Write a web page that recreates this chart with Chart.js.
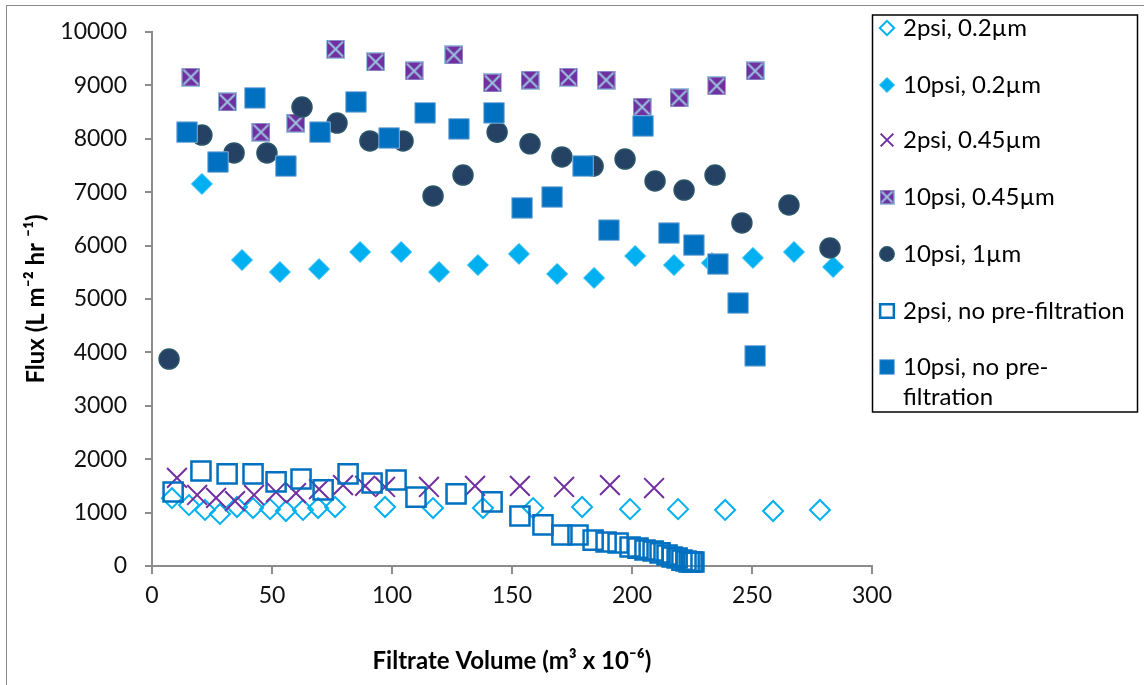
<!DOCTYPE html>
<html>
<head>
<meta charset="utf-8">
<script src="https://cdn.jsdelivr.net/npm/chart.js@4.4.0/dist/chart.umd.min.js"></script>
<style>
html,body{margin:0;padding:0;background:#fff;}
#wrap{width:1144px;height:685px;}
</style>
</head>
<body>
<div id="wrap"><canvas id="myChart" width="1144" height="685"></canvas></div>
<script>
// 축 눈금
var xTicks = [0, 50, 100, 150, 200, 250, 300];
var yTicks = [0, 1000, 2000, 3000, 4000, 5000, 6000, 7000, 8000, 9000, 10000];

// 2psi, 0.2um
var x_2psi_02 = [8.3, 15.4, 22.1, 28.3, 35.4, 42.1, 49.2, 55.8, 62.9, 69.2, 76.3, 97.1, 117.1, 137.9, 158.8, 179.2, 199.2, 219.2, 238.8, 258.8, 278.3];
var y_2psi_02 = [1270, 1140, 1050, 975, 1105, 1085, 1065, 1030, 1050, 1085, 1105, 1105, 1085, 1085, 1085, 1105, 1065, 1065, 1050, 1030, 1050];
// 10psi, 0.2um
var x_10psi_02 = [20.8, 37.5, 53.3, 69.6, 86.7, 103.8, 119.6, 135.8, 152.9, 168.8, 184.2, 201.3, 217.5, 233.3, 250.4, 267.5, 283.8];
var y_10psi_02 = [7155, 5730, 5505, 5560, 5880, 5880, 5505, 5635, 5845, 5470, 5395, 5805, 5635, 5675, 5770, 5880, 5600];
// 2psi, 0.45um
var x_2psi_045 = [10.4, 18.8, 26.7, 34.6, 42.5, 51.7, 60.0, 69.6, 79.6, 88.8, 97.1, 115.4, 134.6, 153.3, 171.7, 190.8, 209.2];
var y_2psi_045 = [1650, 1330, 1275, 1215, 1330, 1385, 1365, 1440, 1515, 1500, 1480, 1480, 1500, 1500, 1480, 1515, 1460];
// 10psi, 0.45um
var x_10psi_045 = [16.2, 31.4, 45.4, 59.9, 76.5, 93.2, 109.2, 125.8, 141.8, 157.5, 173.5, 189.2, 204.2, 219.6, 235.3, 251.3];
var y_10psi_045 = [9155, 8690, 8125, 8295, 9680, 9440, 9270, 9570, 9045, 9100, 9155, 9100, 8595, 8765, 8990, 9270];
// 10psi, 1um
var x_10psi_1 = [7.1, 20.8, 34.2, 47.9, 62.5, 77.1, 90.8, 104.6, 117.1, 129.6, 143.8, 157.5, 170.8, 183.8, 197.1, 209.6, 221.7, 234.6, 245.8, 265.4, 282.5];
var y_10psi_1 = [3875, 8070, 7735, 7735, 8595, 8295, 7960, 7960, 6930, 7320, 8125, 7905, 7660, 7490, 7620, 7210, 7040, 7320, 6425, 6760, 5955];
// 2psi, no pre-filtration
var x_2psi_none = [8.8, 20.4, 31.3, 42.1, 51.7, 62.1, 71.3, 81.7, 91.7, 101.7, 110.0, 126.7, 141.7, 153.3, 162.9, 170.8, 177.5, 183.8, 189.2, 194.2, 199.2, 202.5, 205.4, 208.8, 211.7, 214.6, 216.7, 218.8, 220.8, 222.5, 223.8, 225.0, 225.8];
var y_2psi_none = [1385, 1780, 1725, 1725, 1575, 1630, 1425, 1725, 1555, 1610, 1290, 1350, 1200, 935, 770, 580, 580, 485, 450, 430, 355, 335, 300, 280, 245, 205, 170, 150, 110, 95, 75, 75, 75];
// 10psi, no pre-filtration
var x_10psi_none = [14.6, 27.5, 42.9, 55.8, 70.0, 85.0, 98.8, 113.8, 127.9, 142.5, 154.2, 166.7, 179.6, 190.4, 204.6, 215.4, 225.8, 235.8, 244.2, 251.3];
var y_10psi_none = [8125, 7565, 8765, 7490, 8125, 8690, 8015, 8485, 8185, 8485, 6705, 6910, 7490, 6290, 8240, 6235, 6010, 5655, 4925, 3935];

var seriesNames = ['2psi, 0.2µm', '10psi, 0.2µm', '2psi, 0.45µm', '10psi, 0.45µm', '10psi, 1µm', '2psi, no pre-filtration', ['10psi, no pre-', 'filtration']];

var FONT = 'Lato, "Open Sans", sans-serif';

//x,y 배열을 점으로 묶기
var toPoints = function(xs, ys){
	var pts = [];
	for (var i = 0; i < xs.length; i++) pts.push({x: xs[i], y: ys[i]});
	return pts;
};

//보라색 사각형 + 하늘색 X 마커
var makeBoxX = function(size){
	var c = document.createElement('canvas');
	c.width = size; c.height = size;
	var g = c.getContext('2d');
	g.fillStyle = '#7030A0';
	g.fillRect(0, 0, size, size);
	g.strokeStyle = '#9cc3e0';
	g.lineWidth = 1;
	g.strokeRect(0.5, 0.5, size - 1, size - 1);
	g.lineWidth = 2;
	g.beginPath();
	g.moveTo(2, 2); g.lineTo(size - 2, size - 2);
	g.moveTo(size - 2, 2); g.lineTo(2, size - 2);
	g.stroke();
	return c;
};
var boxX = makeBoxX(19);
var boxXSmall = makeBoxX(15);

var datasets = [
	{label: seriesNames[0], data: toPoints(x_2psi_02, y_2psi_02), pointStyle: 'rectRot', pointRadius: 10,
	 backgroundColor: 'rgba(0,0,0,0)', borderColor: '#00B0F0', pointBorderWidth: 2},
	{label: seriesNames[1], data: toPoints(x_10psi_02, y_10psi_02), pointStyle: 'rectRot', pointRadius: 10.5,
	 backgroundColor: '#00B0F0', borderColor: '#33c0f2', pointBorderWidth: 1},
	{label: seriesNames[2], data: toPoints(x_2psi_045, y_2psi_045), pointStyle: 'crossRot', pointRadius: 14,
	 backgroundColor: '#7030A0', borderColor: '#7030A0', pointBorderWidth: 2},
	{label: seriesNames[3], data: toPoints(x_10psi_045, y_10psi_045), pointStyle: boxX, pointRadius: 10,
	 backgroundColor: '#7030A0', borderColor: '#7030A0', pointBorderWidth: 0},
	{label: seriesNames[4], data: toPoints(x_10psi_1, y_10psi_1), pointStyle: 'circle', pointRadius: 10,
	 backgroundColor: '#254163', borderColor: '#2a5568', pointBorderWidth: 1.5},
	{label: seriesNames[5], data: toPoints(x_2psi_none, y_2psi_none), pointStyle: 'rect', pointRadius: 13.5,
	 backgroundColor: 'rgba(0,0,0,0)', borderColor: '#0070C0', pointBorderWidth: 2.5},
	{label: seriesNames[6], data: toPoints(x_10psi_none, y_10psi_none), pointStyle: 'rect', pointRadius: 14.5,
	 backgroundColor: '#0070C0', borderColor: '#7fb0dc', pointBorderWidth: 1}
];
//엑셀처럼 나중 계열이 위에 그려지도록
datasets.forEach(function(ds, i){
	ds.order = datasets.length - i;
	ds.showLine = false;
	ds.clip = false;
	ds.pointHoverRadius = ds.pointRadius;
	ds.pointBackgroundColor = ds.backgroundColor;
	ds.pointBorderColor = ds.borderColor;
});

//범례 그리기 (테두리 박스, 줄바꿈 포함)
var legendBox = {
	id: 'legendBox',
	afterDraw: function(chart){
		var ctx = chart.ctx;
		ctx.save();
		//바깥 테두리
		ctx.strokeStyle = '#8a8a8a';
		ctx.lineWidth = 1;
		ctx.strokeRect(6.5, 5.5, 1150, 690);
		//범례 테두리
		ctx.strokeStyle = '#000';
		ctx.lineWidth = 1.5;
		ctx.strokeRect(872.5, 15, 265, 397);
		var rowY = [28, 85, 140, 197, 254, 311, 367];
		var mx = 887, tx = 903;
		ctx.font = '24px ' + FONT;
		ctx.textBaseline = 'middle';
		chart.data.datasets.forEach(function(ds, i){
			var y = rowY[i];
			ctx.save();
			ctx.fillStyle = ds.backgroundColor;
			ctx.strokeStyle = ds.borderColor;
			ctx.lineWidth = ds.pointBorderWidth;
			if (typeof ds.pointStyle !== 'string') {
				ctx.drawImage(boxXSmall, mx - 7.5, y - 7.5);
			} else {
				var r = ds.pointStyle == 'crossRot' ? 9 : ds.pointRadius * 0.72;
				Chart.helpers.drawPoint(ctx, {pointStyle: ds.pointStyle, radius: r, rotation: 0, borderWidth: ds.pointBorderWidth}, mx, y);
			}
			ctx.restore();
			ctx.fillStyle = '#000';
			var lines = [].concat(ds.label);
			lines.forEach(function(t, k){
				ctx.fillText(t, tx, y + k * 30);
			});
		});
		ctx.restore();
	}
};

var ctx = document.getElementById('myChart');
new Chart(ctx, {
	type: 'scatter',
	data: {datasets: datasets},
	options: {
		responsive: false,
		animation: false,
		layout: {padding: {top: 32, right: 272, left: 0, bottom: 0}},
		plugins: {legend: {display: false}, tooltip: {enabled: false}},
		scales: {
			x: {
				type: 'linear', min: 0, max: 300,
				afterFit: function(s){ s.height = 119; },
				afterBuildTicks: function(s){ s.ticks = xTicks.map(function(v){ return {value: v}; }); },
				grid: {display: true, drawOnChartArea: false, drawTicks: true, tickLength: 8, color: '#8c8c8c', lineWidth: 2},
				border: {display: true, color: '#8c8c8c', width: 2},
				ticks: {color: '#111', padding: 8, maxRotation: 0, font: {family: FONT, size: 23},
					callback: function(v){ return String(v); }},
				title: {display: true, text: 'Filtrate Volume (m³ x 10⁻⁶)', color: '#000',
					font: {family: FONT, size: 24, weight: 'bold'}, padding: {top: 0, bottom: 9}}
			},
			y: {
				min: 0, max: 10000,
				afterFit: function(s){ s.width = 152; },
				afterBuildTicks: function(s){ s.ticks = yTicks.map(function(v){ return {value: v}; }); },
				grid: {display: true, drawOnChartArea: false, drawTicks: true, tickLength: 7, color: '#8c8c8c', lineWidth: 2},
				border: {display: true, color: '#8c8c8c', width: 2},
				ticks: {color: '#111', padding: 18, font: {family: FONT, size: 23},
					callback: function(v){ return String(v); }},
				title: {display: true, text: 'Flux (L m⁻² hr ⁻¹)', color: '#000',
					font: {family: FONT, size: 24, weight: 'bold'}, padding: {top: 22, bottom: 0}}
			}
		}
	},
	plugins: [legendBox]
});
</script>
</body>
</html>
